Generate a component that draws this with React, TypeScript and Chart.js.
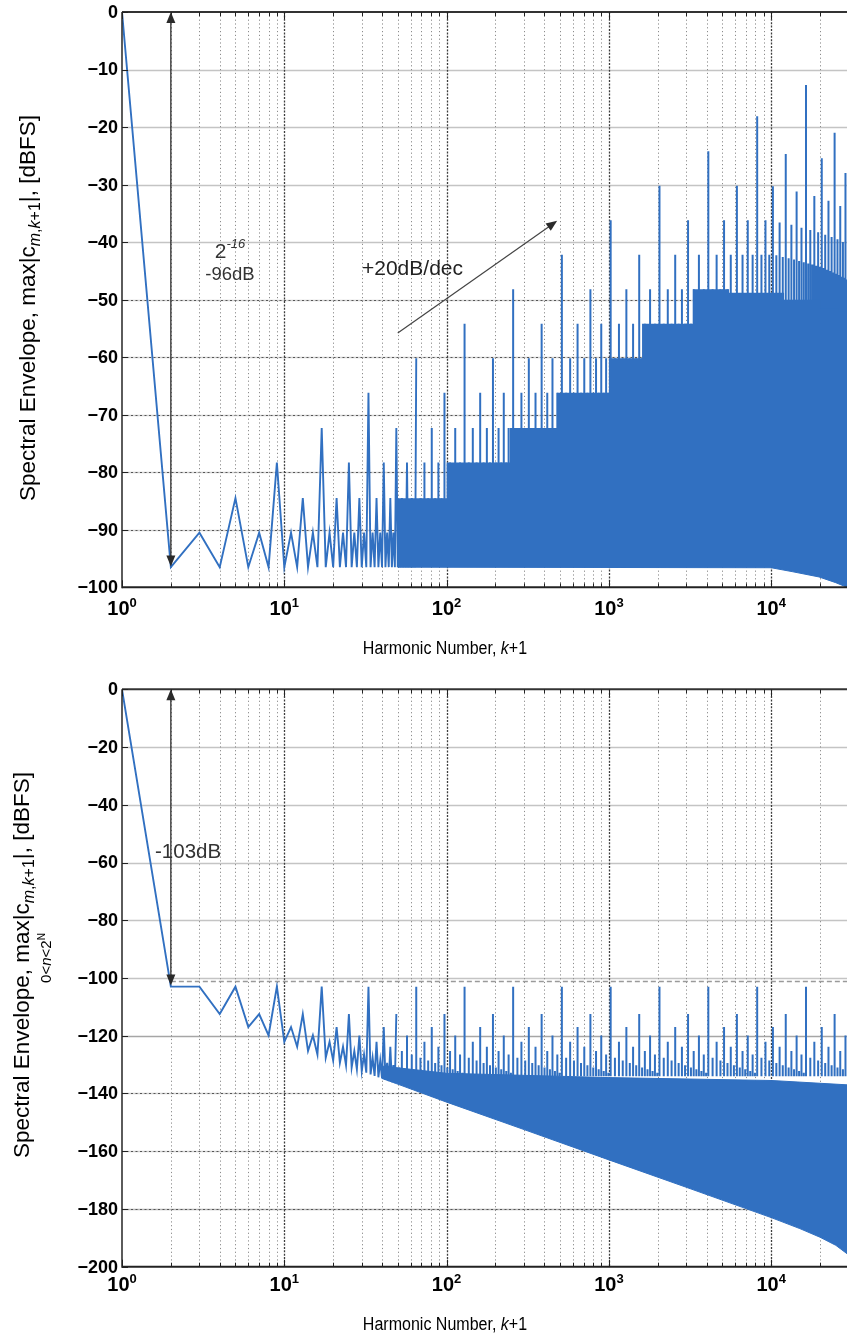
import React, { useEffect, useRef } from "react";
import { Chart, registerables } from "chart.js";

Chart.register(...registerables);

const W = 847;
const BLUE = "#3170c1";
const FONT = '"Liberation Sans", Arial, Helvetica, sans-serif';
const X_MIN = 1;
const X_MAX = 29300;

// ================= TOP PANEL DATA (dBFS) =================
const topLineX = [
  1, 2, 3, 4, 5, 6, 7, 8, 9, 10, 11, 12, 13, 14, 15, 16, 17, 18, 19, 20,
  21, 22, 23, 24, 25, 26, 27, 28, 29, 30, 31, 32, 33, 34, 35, 36, 37, 38, 39, 40,
  41, 42, 43, 44, 45, 46, 47, 48, 49, 50, 51, 52, 53, 54, 55, 56, 57, 58, 59, 60,
  61, 62, 63, 64, 65,
];
const topLineY = [
  0, -96.5, -90.5, -96.5, -84.5, -96.5, -90.5, -96.5, -78.3, -96.5,
  -90.5, -96.5, -84.5, -96.5, -90.5, -96.5, -72.3, -96.5, -90.5, -96.5,
  -84.5, -96.5, -90.5, -96.5, -78.3, -96.5, -90.5, -96.5, -84.5, -96.5,
  -90.5, -96.5, -66.2, -96.5, -90.5, -96.5, -84.5, -96.5, -90.5, -96.5,
  -78.3, -96.5, -90.5, -96.5, -84.5, -96.5, -90.5, -96.5, -72.3, -96.5,
  -90.5, -96.5, -84.5, -96.5, -90.5, -96.5, -78.3, -96.5, -90.5, -96.5,
  -84.5, -96.5, -90.5, -96.5, -60.2,
];
// dense band: upper edge (step levels) and lower edge
const topBandTopX = [50, 100, 245, 480, 1000, 1600, 3300, 5500, 12000, 20000, 26000, 29300];
const topBandTopY = [-90.5, -84.5, -78.3, -72.3, -66.2, -60.2, -54.2, -48.2, -48.8, -50.0, -51.5, -52];
const topBandLowX = [50, 10000, 13600, 19700, 25000, 29300];
const topBandLowY = [-96.5, -96.6, -97.3, -98.2, -99.2, -100];
// isolated spikes by level
const topSpk84X = [69, 77, 85, 93];
const topSpk78X = [73, 89, 105, 121, 137, 153, 169, 185, 201, 217, 233];
const topSpk72X = [81, 113, 145, 177, 209, 241, 273, 305, 337, 369, 401, 433, 465];
const topSpk66X = [97, 161, 225, 289, 353, 417, 481, 545, 609, 673, 737, 801, 865, 929, 993];
const topSpk60X = [193, 321, 449, 577, 705, 833, 961, 1089, 1217, 1345, 1473, 1601];
const topSpk54X = [129, 385, 641, 897, 1153, 1409, 1665, 1921, 2177, 2433, 2689, 2945, 3201];
const topSpk48X = [257, 769, 1281, 1793, 2305, 2817, 3329, 3841, 4353, 4865, 5377];
const topSpk42X = [
  513, 1537, 2561, 3585, 4609, 5633, 6657, 7681, 8705, 9729, 10753, 11777, 12801, 13825, 14849,
  15873, 16897, 17921, 18945, 19969, 20993, 22017, 23041, 24065, 25089, 26113, 27137, 28161, 29185,
];
const topSpk42Y = [
  -42.2, -42.2, -42.2, -42.2, -42.2, -42.2, -42.2, -42.2, -42.2, -42.2, -42.3, -42.6, -42.8, -43.0, -43.3,
  -43.5, -43.7, -43.9, -44.1, -44.3, -44.5, -44.8, -45.0, -45.3, -45.5, -45.7, -46.0, -46.2, -46.5,
];
const topSpk36X = [1025, 3073, 5121, 7169, 9217, 11265, 13313, 15361, 17409, 19457, 21505, 23553, 25601, 27649];
const topSpk36Y = [-36.2, -36.2, -36.2, -36.2, -36.2, -36.6, -37.0, -37.5, -37.9, -38.3, -38.7, -39.1, -39.5, -40.0];
const topSpk30X = [2049, 6145, 10241, 14337, 18433, 22529, 26625];
const topSpk30Y = [-30.2, -30.2, -30.3, -31.2, -32.0, -32.8, -33.7];
const topSpk24X = [4097, 12289, 20481, 28673];
const topSpk24Y = [-24.2, -24.7, -25.4, -28.0];
const topSpk18X = [8193, 24577];
const topSpk18Y = [-18.1, -21.0];
const topSpk12X = [16385];
const topSpk12Y = [-12.7];
const topYTicks = [0, -10, -20, -30, -40, -50, -60, -70, -80, -90, -100];

// ================= BOTTOM PANEL DATA (dBFS) =================
const botLineX = [
  1, 2, 3, 4, 5, 6, 7, 8, 9, 10, 11, 12, 13, 14, 15, 16, 17, 18, 19, 20,
  21, 22, 23, 24, 25, 26, 27, 28, 29, 30, 31, 32, 33, 34, 35, 36, 37, 38, 39, 40,
  41, 42, 43, 44, 45, 46, 47, 48, 49,
];
const botLineY = [
  0, -103, -103, -112.5, -103, -117, -112.5, -119.9, -103, -122.1,
  -117, -123.8, -112.5, -125.3, -119.9, -126.5, -103, -127.6, -122.1, -128.6,
  -117, -129.4, -123.8, -130.2, -112.5, -131, -125.3, -131.6, -119.9, -132.2,
  -126.5, -132.8, -103, -133.4, -127.6, -133.9, -122.1, -134.4, -128.6, -134.8,
  -117, -135.3, -129.4, -135.7, -123.8, -136.1, -130.2, -136.4, -112.5,
];
const botBandTopX = [40, 100, 1000, 10000, 29300];
const botBandTopY = [-130.5, -133, -134.5, -135.5, -137];
const botBandLowX = [40, 48, 100, 300, 1000, 3000, 10000, 15000, 20000, 25000, 29300];
const botBandLowY = [-134.8, -136.4, -143, -152.5, -163, -172.5, -183, -186.8, -189.8, -192.6, -195.5];
const botSpk103X = [65, 129, 257, 513, 1025, 2049, 4097, 8193, 16385];
const botSpk112X = [97, 193, 385, 769, 1537, 3073, 6145, 12289, 24577];
const botSpk117X = [81, 161, 321, 641, 1281, 2561, 5121, 10241, 20481];
const botSpk120X = [57, 113, 225, 449, 897, 1793, 3585, 7169, 14337, 28673];
const botSpk122X = [73, 145, 289, 577, 1153, 2305, 4609, 9217, 18433];
const botSpk124X = [89, 177, 353, 705, 1409, 2817, 5633, 11265, 22529];
const botSpk125X = [53, 105, 209, 417, 833, 1665, 3329, 6657, 13313, 26625];
const botSpk126X = [61, 121, 241, 481, 961, 1921, 3841, 7681, 15361];
const botSpk127X = [69, 137, 273, 545, 1089, 2177, 4353, 8705, 17409];
const botSpk128X = [77, 153, 305, 609, 1217, 2433, 4865, 9729, 19457];
const botSpk129X = [85, 169, 337, 673, 1345, 2689, 5377, 10753, 21505];
const botSpk130X = [93, 185, 369, 737, 1473, 2945, 5889, 11777, 23553];
const botSpk131X = [51, 101, 201, 401, 801, 1601, 3201, 6401, 12801, 25601];
const botSpk131bX = [55, 109, 217, 433, 865, 1729, 3457, 6913, 13825, 27649];
const botSpk132X = [59, 117, 233, 465, 929, 1857, 3713, 7425, 14849];
const botSpk133X = [63, 125, 249, 497, 993, 1985, 3969, 7937, 15873];
const botYTicks = [0, -20, -40, -60, -80, -100, -120, -140, -160, -180, -200];

// ================= helpers =================
type Grp = { x: number[]; y: number | number[] };

function spikePoints(groups: Grp[], base: number) {
  const pts: { x: number; y: number | null }[] = [];
  groups.forEach((g) => {
    g.x.forEach((x, i) => {
      const top = Array.isArray(g.y) ? g.y[i] : g.y;
      pts.push({ x, y: base }, { x, y: top }, { x, y: null });
    });
  });
  return pts;
}
function xy(xs: number[], ys: number[]) {
  return xs.map((x, i) => ({ x, y: ys[i] }));
}

type Part = { t: string; size: number; style?: string; weight?: string; dy?: number };
function fontOf(p: Part) {
  return `${p.style || "normal"} ${p.weight || "normal"} ${p.size}px ${FONT}`;
}
function drawRich(
  ctx: CanvasRenderingContext2D,
  parts: Part[],
  x: number,
  y: number,
  align: string,
  color: string,
  sx: number = 1
) {
  ctx.save();
  ctx.textBaseline = "alphabetic";
  ctx.textAlign = "left";
  ctx.fillStyle = color;
  const ws = parts.map((p) => {
    ctx.font = fontOf(p);
    return ctx.measureText(p.t).width;
  });
  const tw = ws.reduce((a, b) => a + b, 0) * sx;
  const startX = align === "center" ? x - tw / 2 : align === "right" ? x - tw : x;
  ctx.translate(startX, y);
  ctx.scale(sx, 1);
  let cx = 0;
  parts.forEach((p, i) => {
    ctx.font = fontOf(p);
    ctx.fillText(p.t, cx, p.dy || 0);
    cx += ws[i];
  });
  ctx.restore();
}
function seg(
  ctx: CanvasRenderingContext2D,
  x0: number,
  y0: number,
  x1: number,
  y1: number,
  color: string,
  lw: number,
  dash: number[]
) {
  ctx.beginPath();
  ctx.strokeStyle = color;
  ctx.lineWidth = lw;
  ctx.setLineDash(dash);
  ctx.moveTo(x0, y0);
  ctx.lineTo(x1, y1);
  ctx.stroke();
  ctx.setLineDash([]);
}
function head(ctx: CanvasRenderingContext2D, x: number, y: number, ang: number, len: number, half: number, color: string) {
  ctx.save();
  ctx.translate(x, y);
  ctx.rotate(ang);
  ctx.beginPath();
  ctx.moveTo(0, 0);
  ctx.lineTo(-len, -half);
  ctx.lineTo(-len, half);
  ctx.closePath();
  ctx.fillStyle = color;
  ctx.fill();
  ctx.restore();
}

type PanelCfg = {
  yTicks: number[];
  hStyle: string[];
  yMin: number;
  titleY: number;
  tickLabelY: number;
  annotate: (chart: any) => void;
  yTitle: (ctx: CanvasRenderingContext2D) => void;
};

function makeDecor(P: PanelCfg) {
  return {
    id: "decor",
    beforeDatasetsDraw(chart: any) {
      const { ctx, chartArea: a } = chart;
      const xs = chart.scales.x;
      const ys = chart.scales.y;
      ctx.save();
      ctx.beginPath();
      ctx.rect(a.left, a.top, a.right - a.left, a.bottom - a.top);
      ctx.clip();
      // horizontal grid
      P.yTicks.forEach((v, i) => {
        const st = P.hStyle[i];
        const py = Math.round(ys.getPixelForValue(v)) + 0.5;
        if (st === "L") seg(ctx, a.left, py, a.right, py, "#c4c4c4", 1.4, []);
        if (st === "G") seg(ctx, a.left, py, a.right, py, "#a6a6a6", 1.6, []);
        if (st === "D" || st === "GD") {
          seg(ctx, a.left, py, a.right, py, st === "GD" ? "#b8b8b8" : "#d2d2d2", 1.4, []);
          seg(ctx, a.left, py, a.right, py, "#555", 1.1, [2, 2.5]);
        }
      });
      // vertical minor grid
      for (let d = 0; d < 5; d++) {
        for (let m = 2; m <= 9; m++) {
          const v = m * Math.pow(10, d);
          if (v > X_MAX) continue;
          const px = Math.round(xs.getPixelForValue(v)) + 0.5;
          seg(ctx, px, a.top, px, a.bottom, "#8c8c8c", 1, [1.2, 2.6]);
        }
      }
      // vertical major grid
      for (let d = 1; d < 5; d++) {
        const px = Math.round(xs.getPixelForValue(Math.pow(10, d))) + 0.5;
        seg(ctx, px, a.top, px, a.bottom, "#3c3c3c", 1.3, [2, 1.4]);
      }
      ctx.restore();
    },
    afterDatasetsDraw(chart: any) {
      const { ctx, chartArea: a } = chart;
      const xs = chart.scales.x;
      const ys = chart.scales.y;
      ctx.save();
      // frame
      seg(ctx, a.left, a.top, a.right, a.top, "#333", 2, []);
      seg(ctx, a.left, a.top, a.left, a.bottom + 1, "#333", 1.6, []);
      seg(ctx, a.left, a.bottom, a.right, a.bottom, "#222", 2, []);
      // x ticks (inside, top and bottom)
      for (let d = 0; d < 5; d++) {
        for (let m = 1; m <= 9; m++) {
          const v = m * Math.pow(10, d);
          if (v > X_MAX) continue;
          const px = Math.round(xs.getPixelForValue(v)) + 0.5;
          const L = m === 1 ? 7 : 4;
          seg(ctx, px, a.bottom, px, a.bottom - L, "#222", 1, []);
          seg(ctx, px, a.top, px, a.top + L, "#222", 1, []);
        }
      }
      // y ticks (inside left)
      P.yTicks.forEach((v) => {
        const py = Math.round(ys.getPixelForValue(v)) + 0.5;
        seg(ctx, a.left, py, a.left + 6, py, "#222", 1, []);
      });
      // y tick labels
      ctx.fillStyle = "#000";
      ctx.font = `bold 18px ${FONT}`;
      ctx.textAlign = "right";
      ctx.textBaseline = "middle";
      P.yTicks.forEach((v) => {
        const py = ys.getPixelForValue(v);
        const s = v < 0 ? "\u2212" + String(-v) : String(v);
        ctx.fillText(s, a.left - 4, py + 1);
      });
      // x tick labels
      for (let d = 0; d < 5; d++) {
        const px = xs.getPixelForValue(Math.pow(10, d));
        drawRich(
          ctx,
          [
            { t: "10", size: 20, weight: "bold" },
            { t: String(d), size: 13, weight: "bold", dy: -8 },
          ],
          px,
          P.tickLabelY,
          "center",
          "#000"
        );
      }
      // x axis title
      drawRich(
        ctx,
        [
          { t: "Harmonic Number, ", size: 18 },
          { t: "k", size: 18, style: "italic" },
          { t: "+1", size: 18 },
        ],
        445,
        P.titleY,
        "center",
        "#000",
        0.89
      );
      P.yTitle(ctx);
      P.annotate(chart);
      ctx.restore();
    },
  };
}

function yTitleParts(): Part[] {
  return [
    { t: "Spectral Envelope, max|c", size: 22.5 },
    { t: "m", size: 16, style: "italic", dy: 5 },
    { t: ",", size: 16, dy: 5 },
    { t: "k", size: 16, style: "italic", dy: 5 },
    { t: "+1", size: 16, dy: 5 },
    { t: "|, [dBFS]", size: 22.5 },
  ];
}

function doubleArrow(ctx: CanvasRenderingContext2D, px: number, y0: number, y1: number) {
  seg(ctx, px, y0 + 6, px, y1 - 6, "#2a2a2a", 1.3, []);
  head(ctx, px, y0, -Math.PI / 2, 11, 4.5, "#2a2a2a");
  head(ctx, px, y1, Math.PI / 2, 11, 4.5, "#2a2a2a");
}

const topCfg: PanelCfg = {
  yTicks: topYTicks,
  hStyle: ["N", "L", "L", "L", "L", "D", "D", "D", "D", "D", "N"],
  yMin: -100,
  titleY: 654,
  tickLabelY: 615,
  yTitle: (ctx) => {
    ctx.save();
    ctx.translate(35, 308);
    ctx.rotate(-Math.PI / 2);
    drawRich(ctx, yTitleParts(), 0, 0, "center", "#000");
    ctx.restore();
  },
  annotate: (chart) => {
    const ctx = chart.ctx;
    const xs = chart.scales.x;
    const ys = chart.scales.y;
    const px = xs.getPixelForValue(2);
    doubleArrow(ctx, px, ys.getPixelForValue(0), ys.getPixelForValue(-96.4));
    drawRich(
      ctx,
      [
        { t: "2", size: 21 },
        { t: "-16", size: 13, style: "italic", dy: -10 },
      ],
      230,
      258,
      "center",
      "#333"
    );
    drawRich(ctx, [{ t: "-96dB", size: 18.5 }], 230, 280, "center", "#333");
    drawRich(ctx, [{ t: "+20dB/dec", size: 21 }], 362, 275, "left", "#222");
    const x0 = xs.getPixelForValue(50);
    const y0 = ys.getPixelForValue(-55.8);
    const x1 = xs.getPixelForValue(480);
    const y1 = ys.getPixelForValue(-36.3);
    const ang = Math.atan2(y1 - y0, x1 - x0);
    seg(ctx, x0, y0, x1 - 8 * Math.cos(ang), y1 - 8 * Math.sin(ang), "#444", 1.2, []);
    head(ctx, x1, y1, ang, 11, 4.5, "#2a2a2a");
  },
};

const botCfg: PanelCfg = {
  yTicks: botYTicks,
  hStyle: ["N", "L", "L", "L", "L", "L", "G", "D", "D", "GD", "N"],
  yMin: -200,
  titleY: 1330 - 668,
  tickLabelY: 1291 - 668,
  yTitle: (ctx) => {
    ctx.save();
    ctx.translate(29, 965 - 668);
    ctx.rotate(-Math.PI / 2);
    drawRich(ctx, yTitleParts(), 0, 0, "center", "#000");
    drawRich(
      ctx,
      [
        { t: "0<", size: 15 },
        { t: "n", size: 15, style: "italic" },
        { t: "<2", size: 15 },
        { t: "N", size: 10, dy: -6 },
      ],
      7,
      22,
      "center",
      "#000"
    );
    ctx.restore();
  },
  annotate: (chart) => {
    const ctx = chart.ctx;
    const xs = chart.scales.x;
    const ys = chart.scales.y;
    const a = chart.chartArea;
    const px = xs.getPixelForValue(2);
    const yd = Math.round(ys.getPixelForValue(-101.2)) + 0.5;
    seg(ctx, px, yd, a.right, yd, "#9a9a9a", 1.6, [5, 3]);
    doubleArrow(ctx, px, ys.getPixelForValue(0), ys.getPixelForValue(-102.6));
    drawRich(ctx, [{ t: "-103dB", size: 20.5 }], 155, 858 - 668, "left", "#333");
  },
};

function makeChart(canvas: HTMLCanvasElement, P: PanelCfg, datasets: any[], pad: any) {
  return new Chart(canvas, {
    type: "line",
    data: { datasets },
    options: {
      animation: false,
      responsive: false,
      devicePixelRatio: 1,
      layout: { padding: pad },
      plugins: { legend: { display: false }, tooltip: { enabled: false } },
      elements: { point: { radius: 0 } },
      scales: {
        x: { type: "logarithmic", min: X_MIN, max: X_MAX, display: false },
        y: { type: "linear", min: P.yMin, max: 0, display: false },
      },
    },
    plugins: [makeDecor(P)],
  } as any);
}

function lineDs(data: any[], extra: any = {}) {
  return {
    data,
    borderColor: BLUE,
    backgroundColor: BLUE,
    borderWidth: 1.9,
    pointRadius: 0,
    tension: 0,
    fill: false,
    ...extra,
  };
}

export default function App() {
  const topRef = useRef<HTMLCanvasElement>(null);
  const botRef = useRef<HTMLCanvasElement>(null);

  useEffect(() => {
    document.body.style.margin = "0";
    document.body.style.background = "#fff";
    const topDs = [
      lineDs(xy(topBandTopX, topBandTopY), { stepped: "after", borderWidth: 0, borderColor: "rgba(0,0,0,0)", fill: "+1" }),
      lineDs(xy(topBandLowX, topBandLowY), { borderWidth: 1, fill: false }),
      lineDs(xy(topLineX, topLineY)),
      lineDs(
        spikePoints(
          [
            { x: topSpk84X, y: -84.5 },
            { x: topSpk78X, y: -78.3 },
            { x: topSpk72X, y: -72.3 },
            { x: topSpk66X, y: -66.2 },
            { x: topSpk60X, y: -60.2 },
            { x: topSpk54X, y: -54.2 },
            { x: topSpk48X, y: -48.2 },
            { x: topSpk42X, y: topSpk42Y },
            { x: topSpk36X, y: topSpk36Y },
            { x: topSpk30X, y: topSpk30Y },
            { x: topSpk24X, y: topSpk24Y },
            { x: topSpk18X, y: topSpk18Y },
            { x: topSpk12X, y: topSpk12Y },
          ],
          -96
        ),
        { borderWidth: 2, spanGaps: false }
      ),
    ];
    const botDs = [
      lineDs(xy(botBandTopX, botBandTopY), { borderWidth: 1, fill: "+1" }),
      lineDs(xy(botBandLowX, botBandLowY), { borderWidth: 1, fill: false }),
      lineDs(xy(botLineX, botLineY)),
      lineDs(
        spikePoints(
          [
            { x: botSpk103X, y: -103 },
            { x: botSpk112X, y: -112.5 },
            { x: botSpk117X, y: -117 },
            { x: botSpk120X, y: -119.9 },
            { x: botSpk122X, y: -122.1 },
            { x: botSpk124X, y: -123.8 },
            { x: botSpk125X, y: -125.3 },
            { x: botSpk126X, y: -126.5 },
            { x: botSpk127X, y: -127.6 },
            { x: botSpk128X, y: -128.6 },
            { x: botSpk129X, y: -129.4 },
            { x: botSpk130X, y: -130.2 },
            { x: botSpk131X, y: -131 },
            { x: botSpk131bX, y: -131.6 },
            { x: botSpk132X, y: -132.2 },
            { x: botSpk133X, y: -132.8 },
          ],
          -134
        ),
        { borderWidth: 2, spanGaps: false }
      ),
    ];
    const c1 = makeChart(topRef.current!, topCfg, topDs, { left: 122, top: 12, right: 0, bottom: 668 - 587.3 });
    const c2 = makeChart(botRef.current!, botCfg, botDs, { left: 122, top: 21.3, right: 0, bottom: 669 - 598.7 });
    return () => {
      c1.destroy();
      c2.destroy();
    };
  }, []);

  return (
    <div style={{ position: "relative", width: W, height: 1337, background: "#fff", overflow: "hidden" }}>
      <canvas ref={topRef} width={W} height={668} style={{ position: "absolute", left: 0, top: 0, display: "block" }} />
      <canvas ref={botRef} width={W} height={669} style={{ position: "absolute", left: 0, top: 668, display: "block" }} />
    </div>
  );
}
